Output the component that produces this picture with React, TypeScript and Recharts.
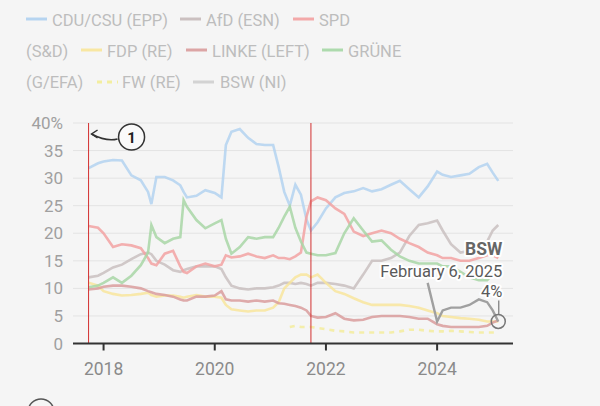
import { CartesianGrid, Line, LineChart, ReferenceLine, XAxis, YAxis } from "recharts"

// poll averages, Germany (decimal year)
const dates = [
  2017.73, 2017.9, 2018.0, 2018.17, 2018.33, 2018.5, 2018.67, 2018.8, 2018.86, 2018.95,
  2019.1, 2019.25, 2019.38, 2019.44, 2019.5, 2019.67, 2019.83, 2020.0, 2020.12, 2020.2,
  2020.3, 2020.45, 2020.6, 2020.75, 2020.9, 2021.05, 2021.15, 2021.25, 2021.35, 2021.45,
  2021.55, 2021.65, 2021.73, 2021.85, 2022.0, 2022.17, 2022.33, 2022.5, 2022.67, 2022.83,
  2023.0, 2023.17, 2023.33, 2023.5, 2023.67, 2023.83, 2024.0, 2024.1, 2024.25, 2024.42,
  2024.58, 2024.75, 2024.9, 2025.0, 2025.1,
]

const cduCsu = [
  31.8, 32.7, 33, 33.3, 33.2, 30.5, 29.6, 27.5, 25.3, 30.2,
  30.2, 29.6, 28.7, 27.5, 26.5, 26.8, 27.8, 27.3, 26.5, 36,
  38.4, 38.9, 37.3, 36.2, 36, 36, 32, 27.5, 25, 28.8,
  27, 22.5, 20.5, 22, 24.5, 26.5, 27.3, 27.6, 28.2, 27.6,
  28, 28.8, 29.5, 28, 26.5, 28.5, 31.2, 30.6, 30.2, 30.5,
  30.8, 32, 32.6, 31, 29.5,
]
const afd = [
  12, 12.3, 12.8, 13.8, 14.3, 15.3, 16.2, 16.5, 16.2, 15,
  14.3, 13.3, 13, 13.3, 13.5, 14, 14, 14, 13.5, 12,
  10.5, 10, 9.8, 10, 10, 10.2, 10.5, 11, 11, 10.8,
  11, 10.8, 10.5, 11, 11, 10.8, 10.5, 10, 12.5, 15,
  15, 15.5, 16.5, 19.5, 21.5, 21.8, 22.3, 20.5, 18, 16.5,
  16.8, 17.5, 18.5, 20.5, 21.5,
]
const spd = [
  21.3, 21, 20, 17.5, 18, 17.8, 17.3, 15.5, 14.5, 14.2,
  16.3, 16.8, 14, 13, 12.8, 14, 14.5, 14, 14.3, 16,
  15.6, 15.8, 16.3, 15.8, 15.5, 16, 15.5, 15.5, 15.3, 15.8,
  16.5, 23, 25.8, 26.5, 26, 24.5, 23.5, 20.3, 19.5, 20,
  20.5, 20, 19, 18.2, 17.5, 16.5, 16, 15.5, 15.5, 15,
  15, 15.5, 16, 16, 15.5,
]
const fdp = [
  11, 10.5, 9.5, 9, 8.7, 8.8, 9, 9.2, 8.8, 8.5,
  8.7, 8.7, 8.5, 8.3, 8.5, 8.8, 8.5, 8.5, 8.3, 7,
  6.2, 6, 5.8, 6, 6, 6.5, 7.5, 10, 11, 12,
  12.5, 12.5, 12, 12.5, 11, 9.5, 9, 8.2, 7.5, 7,
  7, 7, 7, 6.8, 6.5, 6, 5.5, 5, 4.8, 4.6,
  4.5, 4.3, 4, 4, 4,
]
const linke = [
  9.8, 10, 10.3, 10.5, 10.5, 10.3, 10, 9.5, 9.3, 9,
  8.8, 8.5, 8, 7.8, 7.8, 8.5, 8.5, 8.7, 9.5, 8,
  7.8, 7.8, 7.6, 7.8, 7.6, 7.8, 7.3, 7.2, 7, 6.8,
  6.5, 6, 5, 4.7, 4.8, 5.5, 4.5, 4.2, 4.3, 4.8,
  5, 5, 5, 4.8, 4.5, 4.5, 3.5, 3.2, 3, 3,
  3, 3, 3.2, 3.8, 4.2,
]
const gruene = [
  10.2, 10.5, 11, 12, 11, 12.3, 14.2, 16.5, 21.5, 19.3,
  18.2, 19, 19.3, 26, 24.8, 22.4, 20.9, 21.8, 22.4, 19,
  16.3, 17.5, 19.3, 19, 19.3, 19.3, 21, 23, 24.8, 21,
  18.5, 16.5, 16.3, 16, 16, 16.4, 20, 22.7, 20.5, 18.5,
  18.7, 17, 15.8, 15, 14.5, 14.5, 14.5, 14, 14, 13,
  12, 11.5, 11.5, 12.5, 13,
]
// FW polled from spring 2021, BSW from late 2023
const fw = [
  ...Array(28).fill(null),
  3, 3.2, 3, 3, 3, 2.8, 2.6, 2.3, 2.2, 2,
  2, 2, 2, 2, 2.2, 2.5, 2.5, 2.3, 2.2, 2.2,
  2.3, 2.2, 2.1, 2, 2, 2, 2,
]
const bsw = [
  ...Array(45).fill(null),
  11, 4, 6, 6.5, 6.5, 7, 8, 7.5, 6, 4,
]

const yTicks = [0, 5, 10, 15, 20, 25, 30, 35, 40]
const xTicks = [2018, 2020, 2022, 2024]
const elections = [2017.73, 2021.73]
const focusDate = "February 6, 2025"

const data = dates.map((t, i) => ({
  t,
  cdu: cduCsu[i],
  afd: afd[i],
  spd: spd[i],
  fdp: fdp[i],
  linke: linke[i],
  gruene: gruene[i],
  fw: fw[i],
  bsw: bsw[i],
}))

const series = [
  { key: "cdu", color: "#b3d2f0" },
  { key: "afd", color: "#c9bfbf" },
  { key: "spd", color: "#f2a2a2" },
  { key: "fdp", color: "#f8e59c" },
  { key: "linke", color: "#d99c9c" },
  { key: "gruene", color: "#a8d6a6" },
  { key: "fw", color: "#f3ec9c", dash: "5 5" },
]

const legendText = { fontSize: 16.5, fill: "#bdbdbd" }

function Marker({ x, y, color, dash }: { x: number; y: number; color: string; dash?: string }) {
  return <line x1={x} x2={x + 21} y1={y} y2={y} stroke={color} strokeWidth={3} strokeDasharray={dash} />
}

function renderAnno(props: any) {
  const vb = props.viewBox || {}
  const x = vb.x ?? 0
  const y = vb.y ?? 0
  const cx = x + 43
  const cy = y + 14
  return (
    <g>
      <path d={`M ${cx - 14} ${cy + 2} Q ${x + 18} ${y + 19} ${x + 3} ${y + 11}`} fill="none" stroke="#333" strokeWidth={1.5} />
      <path d={`M ${x + 9} ${y + 7} L ${x + 3} ${y + 11} L ${x + 9} ${y + 15}`} fill="none" stroke="#333" strokeWidth={1.5} />
      <circle cx={cx} cy={cy} r={13} fill="#fafafa" stroke="#333" strokeWidth={1.5} />
      <text x={cx} y={cy + 5.5} textAnchor="middle" fontSize={15} fontWeight={700} fill="#222">1</text>
    </g>
  )
}

function renderBswDot(props: any) {
  const { cx, cy, index } = props
  if (index !== bsw.length - 1 || cx == null) return <g key={`bsw-dot-${index}`} />
  const halo = { stroke: "#fff", strokeWidth: 4, paintOrder: "stroke" as const, strokeLinejoin: "round" as const }
  return (
    <g key={`bsw-dot-${index}`}>
      <line x1={cx + 0.5} x2={cx + 0.5} y1={cy - 21} y2={cy - 7} stroke="#777" strokeWidth={1.2} />
      <circle cx={cx} cy={cy} r={7} fill="none" stroke="#777" strokeWidth={1.5} />
      <text x={cx + 4} y={cy - 66} textAnchor="end" fontSize={17.5} fontWeight={700} fill="#666" style={halo}>BSW</text>
      <text x={cx + 4} y={cy - 44} textAnchor="end" fontSize={16.5} fill="#5a5a5a" style={halo}>{focusDate}</text>
      <text x={cx + 4} y={cy - 24} textAnchor="end" fontSize={16.5} fill="#5a5a5a" style={halo}>{`${bsw[bsw.length - 1]}%`}</text>
    </g>
  )
}

export default function App() {
  return (
    <div
      style={{
        position: "absolute",
        left: 0,
        top: 0,
        width: 600,
        height: 406,
        background: "#f5f5f5",
        fontFamily: "Roboto, sans-serif",
        overflow: "hidden",
      }}
    >
      <LineChart width={600} height={406} data={data} margin={{ top: 123, right: 87, bottom: 0, left: 0 }}>
        <CartesianGrid vertical={false} stroke="#e3e3e3" />
        <XAxis
          dataKey="t"
          type="number"
          domain={[2017.45, 2025.365]}
          ticks={xTicks}
          allowDataOverflow
          height={62.5}
          axisLine={{ stroke: "#333", strokeWidth: 2 }}
          tickLine={{ stroke: "#333", strokeWidth: 2 }}
          tickSize={7}
          tickMargin={12}
          tick={{ fontSize: 17.5, fill: "#8a8a8a" }}
        />
        <YAxis
          domain={[0, 40]}
          ticks={yTicks}
          width={73}
          axisLine={false}
          tickLine={false}
          tickMargin={4}
          tick={{ fontSize: 17, fill: "#a0a0a0" }}
          tickFormatter={(v: number) => (v === 40 ? "40%" : String(v))}
        />
        {series.map((s) => (
          <Line
            key={s.key}
            dataKey={s.key}
            type="linear"
            stroke={s.color}
            strokeWidth={2.6}
            strokeOpacity={0.85}
            strokeDasharray={s.dash}
            dot={false}
            activeDot={false}
            isAnimationActive={false}
          />
        ))}
        <ReferenceLine x={elections[0]} stroke="#d32f2f" strokeWidth={1} label={renderAnno} />
        <ReferenceLine x={elections[1]} stroke="#d32f2f" strokeWidth={1} />
        <Line
          dataKey="bsw"
          type="linear"
          stroke="#a0a0a0"
          strokeWidth={2.4}
          dot={renderBswDot}
          activeDot={false}
          isAnimationActive={false}
        />
      </LineChart>

      <svg width={600} height={406} style={{ position: "absolute", left: 0, top: 0, pointerEvents: "none" }}>
        <g style={legendText as any}>
          <Marker x={26} y={19} color="#b6d4f0" />
          <text x={52} y={26}>CDU/CSU (EPP)</text>
          <Marker x={180} y={19} color="#cbc0c0" />
          <text x={206} y={26}>AfD (ESN)</text>
          <Marker x={293} y={19} color="#f3a9a9" />
          <text x={319} y={26}>SPD</text>

          <text x={26} y={57}>(S&amp;D)</text>
          <Marker x={81} y={50} color="#f8e7a2" />
          <text x={107} y={57}>FDP (RE)</text>
          <Marker x={186} y={50} color="#dca5a5" />
          <text x={212} y={57}>LINKE (LEFT)</text>
          <Marker x={322} y={50} color="#addaad" />
          <text x={348} y={57}>GRÜNE</text>

          <text x={26} y={88}>(G/EFA)</text>
          <Marker x={97} y={82} color="#f3ee9f" dash="5 5" />
          <text x={122} y={88}>FW (RE)</text>
          <Marker x={193} y={82} color="#d3d3d3" />
          <text x={220} y={88}>BSW (NI)</text>
        </g>
        <circle cx={41} cy={412} r={13} fill="none" stroke="#555" strokeWidth={1.5} />
      </svg>
    </div>
  )
}
